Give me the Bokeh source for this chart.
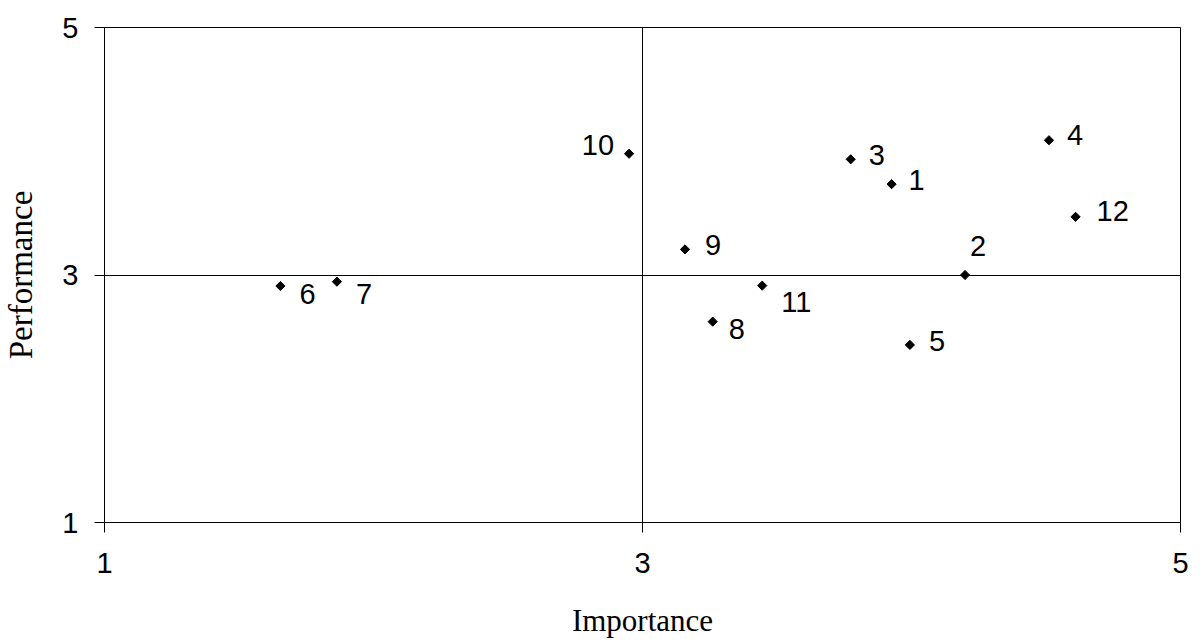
from bokeh.plotting import figure
from bokeh.models import ColumnDataSource, FixedTicker, Range1d
from bokeh.core.properties import value
from bokeh.embed import file_html
from bokeh.resources import INLINE

# ---- data ----
labels = ["1", "2", "3", "4", "5", "6", "7", "8", "9", "10", "11", "12"]
importance = [3.926, 4.199, 3.774, 4.511, 3.994, 1.654, 1.864, 3.261, 3.158, 2.950, 3.445, 4.610]
performance = [3.734, 3.000, 3.935, 4.089, 2.435, 2.911, 2.946, 2.623, 3.207, 3.980, 2.914, 3.470]
axis_ticks = [1, 3, 5]

# ---- label placement (screen pixels, style only) ----
label_dx = [17, 5, 18, 18, 19, 19, 19, 16, 20, -15, 19, 21]
label_dy = [-4, -29, -4, -5, -4, 8, 12, 7, -4, -9, 16, -6]
label_align = ["left"] * 9 + ["right"] + ["left"] * 2

src = ColumnDataSource(dict(x=importance, y=performance, lab=labels,
                            dx=label_dx, dy=label_dy, al=label_align))

p = figure(width=1192, height=640, output_backend="svg", toolbar_location=None,
           x_range=Range1d(1, 5), y_range=Range1d(1, 5),
           min_border_left=103, min_border_right=12, min_border_top=27, min_border_bottom=117)
p.background_fill_color = "white"
p.border_fill_color = "white"
p.outline_line_color = "black"
p.outline_line_width = 1

for ax in (p.xaxis[0], p.yaxis[0]):
    ax.ticker = FixedTicker(ticks=axis_ticks)
    ax.major_tick_in = 0
    ax.major_tick_out = 10
    ax.minor_tick_line_color = None
    ax.axis_line_color = "black"
    ax.major_tick_line_color = "black"
    ax.major_label_text_font = "Liberation Sans"
    ax.major_label_text_font_size = "29px"
    ax.major_label_text_color = "black"
    ax.axis_label_text_font = "Liberation Serif"
    ax.axis_label_text_font_style = "normal"
    ax.axis_label_text_color = "black"

p.xaxis.axis_label = "Importance"
p.yaxis.axis_label = "Performance"
p.xaxis.axis_label_text_font_size = "31px"
p.yaxis.axis_label_text_font_size = "33px"
p.xaxis.major_label_standoff = 20
p.xaxis.axis_label_standoff = 27
p.yaxis.major_label_standoff = 16
p.yaxis.axis_label_standoff = 20

for g in (p.xgrid[0], p.ygrid[0]):
    g.ticker = FixedTicker(ticks=axis_ticks)
    g.grid_line_color = "black"
    g.grid_line_width = 1
    g.grid_line_alpha = 1.0

p.scatter("x", "y", source=src, marker="square", size=6.5, angle=0.785398,
          fill_color="black", line_color="black")
p.text("x", "y", text="lab", source=src, x_offset="dx", y_offset="dy",
       text_align="al", text_baseline="middle",
       text_font=value("Liberation Sans"), text_font_size="29px", text_color="black")

open("out.html", "w").write(file_html(p, INLINE))
